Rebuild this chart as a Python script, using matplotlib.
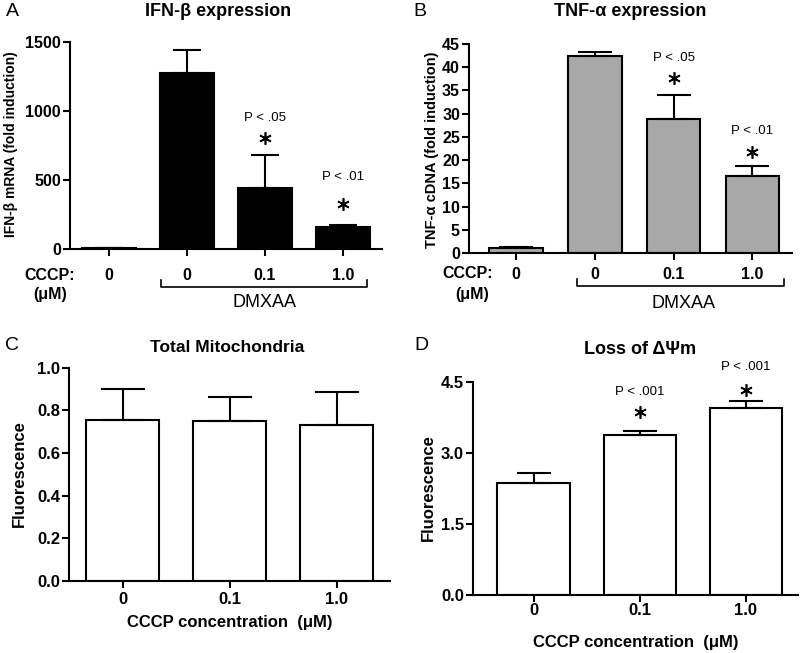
import matplotlib
matplotlib.use("Agg")
import matplotlib.pyplot as plt
import matplotlib.transforms as mtransforms

plt.rcParams['font.family'] = ['Liberation Sans', 'DejaVu Sans']

# panel A: IFN-beta
ifn_labels = ['0', '0', '0.1', '1.0']
ifn_mean = [5, 1275, 444, 161]
ifn_err = [2, 170, 237, 11]

# panel B: TNF-alpha
tnf_labels = ['0', '0', '0.1', '1.0']
tnf_mean = [1.1, 42.4, 28.8, 16.7]
tnf_err = [0.15, 0.9, 5.2, 2.0]

# panel C: total mitochondria
cccp_labels = ['0', '0.1', '1.0']
mito_mean = [0.754, 0.750, 0.731]
mito_err = [0.144, 0.114, 0.155]

# panel D: loss of membrane potential
dpsi_mean = [2.376, 3.39, 3.95]
dpsi_err = [0.20, 0.086, 0.148]

W, H = 800, 653
fig = plt.figure(figsize=(W / 100, H / 100), dpi=100)


def add_ax(left, top, right, bottom):
    return fig.add_axes([left / W, 1 - bottom / H, (right - left) / W, (bottom - top) / H])


def ftext(px, py, s, **kw):
    # text placed in pixel coords from the top-left corner
    return fig.text(px / W, 1 - py / H, s, ha='center', va='center', **kw)


def style(ax, tick_size=11.5, xpad=4):
    for side in ['top', 'right']:
        ax.spines[side].set_visible(False)
    for side in ['left', 'bottom']:
        ax.spines[side].set_linewidth(1.5)
    ax.tick_params(direction='out', length=5, width=1.5, labelsize=tick_size)
    ax.tick_params(axis='x', pad=xpad)
    ax.tick_params(axis='y', pad=1.5)
    for lab in ax.get_xticklabels() + ax.get_yticklabels():
        lab.set_fontweight('bold')


def bars(ax, mean, err, color, capsize):
    x = list(range(len(mean)))
    ax.bar(x, mean, width=0.68, color=color, edgecolor='black', linewidth=1.5, zorder=2)
    ax.errorbar(x, mean, yerr=[[0] * len(err), err], fmt='none', ecolor='black',
                elinewidth=1.5, capsize=capsize, capthick=1.5, zorder=3)
    return x


def stars(ax, notes):
    # p-value text plus a six-spoke asterisk above the bar
    for xi, ytxt, ystar, txt in notes:
        ax.text(xi, ytxt, txt, ha='center', va='center', fontsize=9.5)
        ax.plot([xi], [ystar], marker=(6, 2, 0), markersize=9, markeredgewidth=1.2,
                color='black', clip_on=False)


def bracket(ax, x0, x1, y, tick, label_x, label_y):
    tr = mtransforms.blended_transform_factory(ax.transData, ax.transAxes)
    ax.plot([x0, x0, x1, x1], [y + tick, y, y, y + tick], color='black', lw=1.2,
            transform=tr, clip_on=False)
    ax.text(label_x, label_y, 'DMXAA', transform=tr, ha='center', va='center', fontsize=13)


# ---- A ----
axA = add_ax(70, 42, 382, 249)
x = bars(axA, ifn_mean, ifn_err, 'black', 10)
axA.set_xlim(-0.5, 3.5)
axA.set_ylim(0, 1500)
axA.set_yticks([0, 500, 1000, 1500])
axA.set_xticks(x)
axA.set_xticklabels(ifn_labels)
style(axA, xpad=9)
ftext(11, 144, 'IFN-β mRNA (fold induction)', rotation=90, fontsize=10, fontweight='bold')
stars(axA, [(2, 949, 804, 'P < .05'), (3, 522, 326, 'P < .01')])
bracket(axA, 0.67, 3.31, -0.184, 0.034, 2.0, -0.26)
ftext(50, 275, 'CCCP:', fontsize=11.5, fontweight='bold')
ftext(50, 295, '(μM)', fontsize=11.5, fontweight='bold')
ftext(218, 12, 'IFN-β expression', fontsize=13, fontweight='bold')
ftext(12, 12, 'A', fontsize=14)

# ---- B ----
axB = add_ax(469, 43.7, 791.7, 253.3)
x = bars(axB, tnf_mean, tnf_err, '#a8a8a8', 12)
axB.set_xlim(-0.6, 3.5)
axB.set_ylim(0, 45)
axB.set_yticks(range(0, 46, 5))
axB.set_xticks(x)
axB.set_xticklabels(tnf_labels)
style(axB, xpad=5)
ftext(432, 150, 'TNF-α cDNA (fold induction)', rotation=90, fontsize=10.5, fontweight='bold')
stars(axB, [(2, 41.9, 37.6, 'P < .05'), (3, 26.3, 21.7, 'P < .01')])
bracket(axB, 0.77, 3.4, -0.157, 0.034, 2.13, -0.238)
ftext(468, 273, 'CCCP:', fontsize=11.5, fontweight='bold')
ftext(472, 294, '(μM)', fontsize=11.5, fontweight='bold')
ftext(630, 12, 'TNF-α expression', fontsize=13, fontweight='bold')
ftext(420, 12, 'B', fontsize=14)

# ---- C ----
axC = add_ax(69.3, 367.7, 390, 580.7)
x = bars(axC, mito_mean, mito_err, 'white', 16)
axC.set_xlim(-0.5, 2.5)
axC.set_ylim(0, 1.0)
axC.set_yticks([0.0, 0.2, 0.4, 0.6, 0.8, 1.0])
axC.set_yticklabels(['0.0', '0.2', '0.4', '0.6', '0.8', '1.0'])
axC.set_xticks(x)
axC.set_xticklabels(cccp_labels)
style(axC, tick_size=12, xpad=3)
ftext(19, 474, 'Fluorescence', rotation=90, fontsize=12, fontweight='bold')
ftext(230, 623, 'CCCP concentration  (μM)', fontsize=12, fontweight='bold')
ftext(227, 348, 'Total Mitochondria', fontsize=12.5, fontweight='bold')
ftext(12, 345, 'C', fontsize=14)

# ---- D ----
axD = add_ax(473, 382.3, 798, 595)
x = bars(axD, dpsi_mean, dpsi_err, 'white', 12.5)
axD.set_xlim(-0.57, 2.49)
axD.set_ylim(0, 4.5)
axD.set_yticks([0.0, 1.5, 3.0, 4.5])
axD.set_yticklabels(['0.0', '1.5', '3.0', '4.5'])
axD.set_xticks(x)
axD.set_xticklabels(cccp_labels)
style(axD, tick_size=12, xpad=0.5)
ftext(428, 488, 'Fluorescence', rotation=90, fontsize=12, fontweight='bold')
ftext(636, 643, 'CCCP concentration  (μM)', fontsize=12, fontweight='bold')
stars(axD, [(1, 4.30, 3.88, 'P < .001'), (2, 4.83, 4.34, 'P < .001')])
ftext(640, 350, 'Loss of ΔΨm', fontsize=13, fontweight='bold')
ftext(421, 345, 'D', fontsize=14)

fig.savefig('out.png', dpi=100, facecolor='white')
